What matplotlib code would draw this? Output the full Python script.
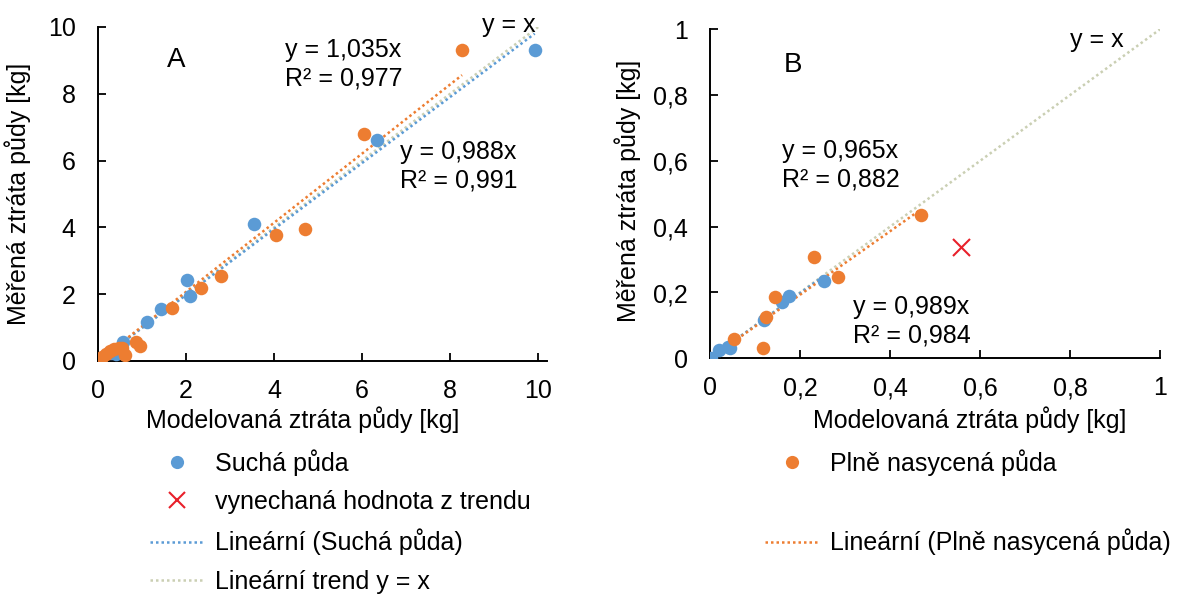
import matplotlib
matplotlib.use("Agg")
import matplotlib.pyplot as plt
from matplotlib.lines import Line2D
import numpy as np

plt.rcParams['font.family'] = ['Liberation Sans', 'DejaVu Sans']

# ---- Panel A data ----
a_dry_x = [9.92, 6.33, 3.54, 2.03, 2.08, 1.42, 1.11, 0.57, 0.42, 0.30, 0.02]
a_dry_y = [9.30, 6.61, 4.11, 2.42, 1.94, 1.55, 1.17, 0.57, 0.22, 0.25, 0.00]
a_sat_x = [8.27, 6.05, 4.05, 4.70, 2.80, 2.35, 1.69, 0.86, 0.95, 0.61,
           0.03, 0.10, 0.18, 0.27, 0.37, 0.47, 0.55]
a_sat_y = [9.30, 6.81, 3.76, 3.94, 2.53, 2.20, 1.60, 0.57, 0.44, 0.17,
           0.02, 0.12, 0.22, 0.30, 0.36, 0.40, 0.38]
a_slope_dry, a_slope_sat = 0.988, 1.035

# ---- Panel B data ----
b_dry_x = [0.002, 0.02, 0.04, 0.044, 0.12, 0.16, 0.175, 0.253]
b_dry_y = [0.000, 0.025, 0.035, 0.030, 0.115, 0.17, 0.19, 0.235]
b_sat_x = [0.469, 0.230, 0.285, 0.144, 0.124, 0.117, 0.053]
b_sat_y = [0.436, 0.307, 0.246, 0.187, 0.127, 0.032, 0.058]
b_out_x = [0.558]
b_out_y = [0.337]
b_slope_sat, b_slope_dry = 0.965, 0.989

BLUE = '#5B9BD5'
ORANGE = '#ED7D31'
RED = '#E8202A'
YX = '#CACFB3'
FS = 18

fig = plt.figure(figsize=(12.04, 5.97), dpi=100)
axA = fig.add_axes([98/1204, 1-361/597, 449/1204, 334/597])
axB = fig.add_axes([710/1204, 1-358.3/597, 450/1204, 329/597])

dot = (0, (1, 1.2))

def style(ax, xlim, ylim, xticks, yticks, xtl, ytl):
    ax.set_xlim(*xlim)
    ax.set_ylim(*ylim)
    for s in ['top', 'right']:
        ax.spines[s].set_visible(False)
    for s in ['left', 'bottom']:
        ax.spines[s].set_linewidth(1.4)
    ax.set_xticks(xticks)
    ax.set_yticks(yticks)
    ax.set_xticklabels(xtl)
    ax.set_yticklabels(ytl)
    ax.tick_params(direction='in', length=6, width=1.3, labelsize=FS)
    ax.tick_params(axis='y', pad=16)
    ax.tick_params(axis='x', pad=13)

# Panel A
axA.plot([0, 10], [0, 10], linestyle=dot, color=YX, lw=1.8, zorder=1)
axA.plot([0, max(a_dry_x)], [0, a_slope_dry*max(a_dry_x)], linestyle=dot, color=BLUE, lw=1.8, zorder=2)
axA.plot([0, max(a_sat_x)], [0, a_slope_sat*max(a_sat_x)], linestyle=dot, color=ORANGE, lw=1.8, zorder=2)
axA.scatter(a_dry_x, a_dry_y, s=95, color=BLUE, zorder=3, linewidths=0)
axA.scatter(a_sat_x, a_sat_y, s=95, color=ORANGE, zorder=4, linewidths=0)
style(axA, (0, 10.2), (0, 10), [0, 2, 4, 6, 8, 10], [0, 2, 4, 6, 8, 10],
      ['0', '2', '4', '6', '8', '10'], ['0', '2', '4', '6', '8', '10'])
axA.set_xlabel('Modelovaná ztráta půdy [kg]', fontsize=FS, va='center')
axA.xaxis.set_label_coords(0.455, -0.177)
axA.set_ylabel('Měřená ztráta půdy [kg]', fontsize=FS, va='center')
axA.yaxis.set_label_coords(-0.178, 0.5)
axA.text(1.57, 9.0, 'A', fontsize=FS+2, va='center', ha='left')
axA.text(4.25, 8.88, 'y = 1,035x\nR² = 0,977', fontsize=FS, va='center', ha='left', linespacing=1.22)
axA.text(6.86, 5.83, 'y = 0,988x\nR² = 0,991', fontsize=FS, va='center', ha='left', linespacing=1.22)
axA.text(8.73, 10.05, 'y = x', fontsize=FS, va='center', ha='left', clip_on=False)

# Panel B
axB.plot([0, 1], [0, 1], linestyle=dot, color=YX, lw=1.8, zorder=1)
axB.plot([0, max(b_dry_x)], [0, b_slope_dry*max(b_dry_x)], linestyle=dot, color=BLUE, lw=1.8, zorder=2)
axB.plot([0, max(b_sat_x)], [0, b_slope_sat*max(b_sat_x)], linestyle=dot, color=ORANGE, lw=1.8, zorder=2)
axB.scatter(b_dry_x, b_dry_y, s=95, color=BLUE, zorder=3, linewidths=0)
axB.scatter(b_sat_x, b_sat_y, s=95, color=ORANGE, zorder=4, linewidths=0)
axB.scatter(b_out_x, b_out_y, s=150, marker='x', color=RED, zorder=5, linewidths=1.5)
style(axB, (0, 1.0), (0, 1.0), [0, 0.2, 0.4, 0.6, 0.8, 1.0], [0, 0.2, 0.4, 0.6, 0.8, 1.0],
      ['0', '0,2', '0,4', '0,6', '0,8', '1'], ['0', '0,2', '0,4', '0,6', '0,8', '1'])
axB.set_xlabel('Modelovaná ztráta půdy [kg]', fontsize=FS, va='center')
axB.xaxis.set_label_coords(0.576, -0.188)
axB.set_ylabel('Měřená ztráta půdy [kg]', fontsize=FS, va='center')
axB.yaxis.set_label_coords(-0.183, 0.51)
axB.text(0.164, 0.89, 'B', fontsize=FS+2, va='center', ha='left')
axB.text(0.161, 0.587, 'y = 0,965x\nR² = 0,882', fontsize=FS, va='center', ha='left', linespacing=1.22)
axB.text(0.318, 0.113, 'y = 0,989x\nR² = 0,984', fontsize=FS, va='center', ha='left', linespacing=1.22)
axB.text(0.80, 0.967, 'y = x', fontsize=FS, va='center', ha='left', clip_on=False)

# Legends
hA = [Line2D([], [], ls='none', marker='o', ms=9.5, mec='none', color=BLUE),
      Line2D([], [], ls='none', marker='x', ms=11, mew=1.5, color=RED),
      Line2D([], [], ls=dot, lw=1.8, color=BLUE),
      Line2D([], [], ls=dot, lw=1.8, color=YX)]
lA = ['Suchá půda', 'vynechaná hodnota z trendu', 'Lineární (Suchá půda)', 'Lineární trend y = x']
fig.legend(hA, lA, loc='upper left', bbox_to_anchor=(150/1204, 1-449/597), frameon=False,
           fontsize=FS, handlelength=2.15, handletextpad=0.45, labelspacing=0.58,
           borderpad=0, borderaxespad=0)

hB = [Line2D([], [], ls='none', marker='o', ms=9.5, mec='none', color=ORANGE),
      Line2D([], [], ls='none'),
      Line2D([], [], ls=dot, lw=1.8, color=ORANGE),
      Line2D([], [], ls='none')]
lB = ['Plně nasycená půda', ' ', 'Lineární (Plně nasycená půda)', ' ']
fig.legend(hB, lB, loc='upper left', bbox_to_anchor=(765/1204, 1-449/597), frameon=False,
           fontsize=FS, handlelength=2.15, handletextpad=0.45, labelspacing=0.58,
           borderpad=0, borderaxespad=0)

fig.savefig('out.png', dpi=100)
